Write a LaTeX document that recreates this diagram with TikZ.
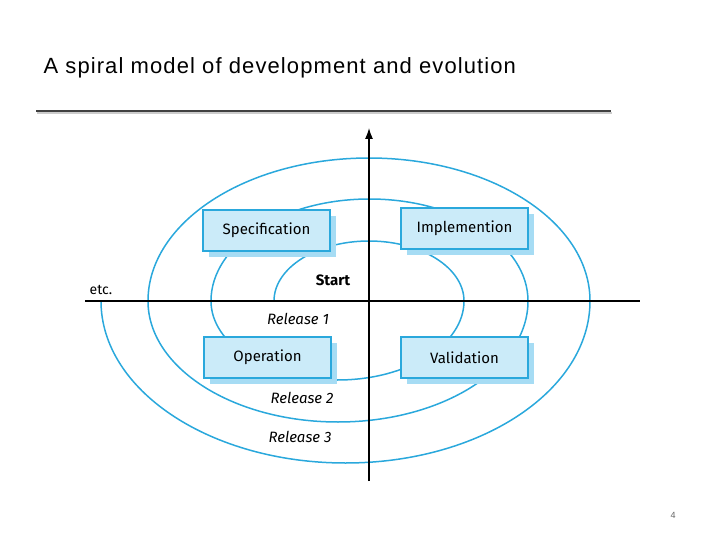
\documentclass[tikz,border=0pt]{standalone}
\usepackage{fontspec}
\setmainfont{Liberation Sans}
\newfontfamily\titlefont[LetterSpace=5]{Liberation Sans}
\newfontfamily\boxfont{Fira Sans}
\usetikzlibrary{arrows.meta}
\definecolor{spir}{HTML}{2AA8DC}
\definecolor{boxfill}{HTML}{CBEBF9}
\definecolor{boxshadow}{HTML}{A6DCF4}
\tikzset{
  stagebox/.style={draw=spir,line width=1.2pt,fill=boxfill,minimum width=127pt,minimum height=41pt,inner sep=0pt,font=\boxfont\fontsize{15}{17}\selectfont},
  shadowbox/.style={fill=boxshadow,minimum width=127pt,minimum height=41pt,inner sep=0pt},
  lab/.style={font=\boxfont\itshape\fontsize{15}{17}\selectfont}
}
\begin{document}
\begin{tikzpicture}[x=1pt,y=-1pt]
\useasboundingbox (0,0) rectangle (720,540);
\node[anchor=west,font=\titlefont\fontsize{22}{25}\selectfont] (title) at (40,68) {A spiral model of development and evolution};
\fill[gray!40] (37,112.5) rectangle (612,114.5);
\draw[line width=2.6pt,color=black!75] (36,111) -- (611,111);
\node[font=\fontsize{9}{11}\selectfont,text=black!60] (pg) at (673,515) {4};
% spiral
\draw[spir,line width=1.5pt] (274,301)
  arc[start angle=180,end angle=360,x radius=95,y radius=60]
  arc[start angle=0,end angle=180,x radius=126.5,y radius=79]
  arc[start angle=180,end angle=360,x radius=158.5,y radius=102]
  arc[start angle=0,end angle=180,x radius=190,y radius=121]
  arc[start angle=180,end angle=360,x radius=221,y radius=143]
  arc[start angle=0,end angle=180,x radius=244.5,y radius=162];
% axes
\coordinate (vb) at (369,481);
\coordinate (vt) at (369,128);
\coordinate (hl) at (85,301);
\coordinate (hr) at (640,301);
\draw[line width=1.2pt] (hl) -- (hr);
\draw[line width=1.2pt,-{Latex[length=11pt,width=8pt]}] (vb) -- (vt);
% boxes
\node[shadowbox] (s1) at (272.5,236.5) {};
\node[stagebox] (spec) at (266.5,230.5) {Specification};
\node[shadowbox] (s2) at (470.5,234.5) {};
\node[stagebox] (impl) at (464.5,228.5) {Implemention};
\node[shadowbox] (s3) at (273.5,363.5) {};
\node[stagebox] (oper) at (267.5,357.5) {Operation};
\node[shadowbox] (s4) at (470.5,363.5) {};
\node[stagebox] (vali) at (464.5,357.5) {Validation};
% labels
\node[font=\boxfont\bfseries\fontsize{15}{17}\selectfont] (start) at (333,280) {Start};
\node[lab] (r1) at (298,319) {Release 1};
\node[lab] (r2) at (302,398) {Release 2};
\node[lab] (r3) at (300,437) {Release 3};
\node[font=\boxfont\fontsize{14}{16}\selectfont] (etc) at (101,290) {etc.};
\end{tikzpicture}
\end{document}
